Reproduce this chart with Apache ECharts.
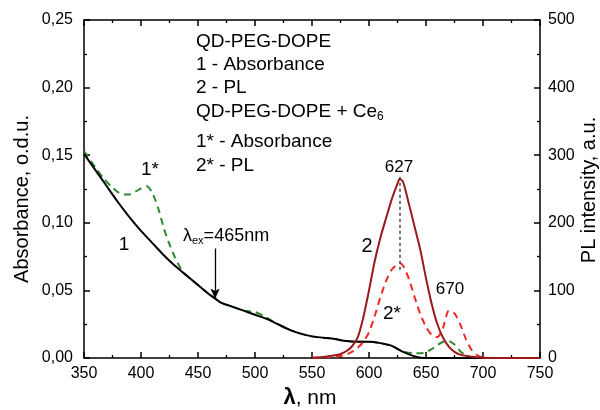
<!DOCTYPE html>
<html>
<head>
<meta charset="utf-8">
<script src="https://cdn.jsdelivr.net/npm/echarts@6/dist/echarts.min.js"></script>
<style>
  html, body { margin: 0; padding: 0; background: #fff; }
  #chart { width: 600px; height: 410px; }
</style>
</head>
<body>
<div id="chart"></div>
<script>
// Absorbance of QD-PEG-DOPE (curve 1), o.d.u.
const absWavelengths = [350, 360, 370, 380, 390, 400, 410, 420, 430, 440, 450, 460, 465, 470, 480, 490, 500, 510, 520, 530, 540, 550, 560, 570, 580, 590, 600, 610, 620, 630, 640, 650, 660, 700, 750];
const absQD = [0.151, 0.139, 0.127, 0.115, 0.104, 0.094, 0.085, 0.076, 0.068, 0.061, 0.054, 0.047, 0.044, 0.041, 0.038, 0.035, 0.032, 0.029, 0.025, 0.021, 0.018, 0.016, 0.015, 0.014, 0.0125, 0.012, 0.012, 0.011, 0.009, 0.0045, 0.0012, 0, 0, 0, 0];

// Absorbance of QD-PEG-DOPE + Ce6 (curve 1*), o.d.u.
const absCe6Wavelengths = [350, 360, 367, 375, 380, 385, 390, 395, 400, 405, 410, 415, 420, 425, 430, 435, 440, 450, 460, 465, 470, 480, 490, 500, 510, 520, 530, 540, 550, 560, 570, 580, 590, 600, 610, 620, 630, 640, 645, 650, 655, 660, 665, 670, 675, 680, 685, 690, 700, 750];
const absCe6 = [0.153, 0.141, 0.133, 0.126, 0.1225, 0.121, 0.121, 0.123, 0.1255, 0.127, 0.122, 0.111, 0.096, 0.084, 0.074, 0.066, 0.061, 0.054, 0.047, 0.044, 0.041, 0.038, 0.035, 0.034, 0.030, 0.025, 0.021, 0.018, 0.016, 0.015, 0.014, 0.0125, 0.012, 0.012, 0.011, 0.009, 0.0048, 0.0035, 0.0035, 0.0045, 0.0065, 0.0095, 0.012, 0.0125, 0.010, 0.005, 0.002, 0.0005, 0, 0];

// PL of QD-PEG-DOPE (curve 2), a.u.
const plWavelengths = [550, 560, 570, 575, 580, 585, 590, 595, 600, 605, 610, 615, 620, 625, 627, 630, 635, 640, 645, 650, 655, 660, 665, 670, 675, 680, 690, 700, 710, 750];
const plQD = [0.3, 1.5, 4, 6, 10, 17, 30, 60, 100, 143, 178, 207, 235, 258, 265, 260, 228, 194, 160, 118, 80, 50, 30, 17, 9, 5, 2, 0.5, 0, 0];

// PL of QD-PEG-DOPE + Ce6 (curve 2*), a.u.
const plCe6Wavelengths = [550, 560, 570, 575, 580, 585, 590, 595, 600, 605, 610, 615, 620, 625, 627, 630, 635, 640, 645, 650, 655, 660, 665, 670, 675, 680, 685, 690, 695, 700, 710, 720, 730, 750];
const plCe6 = [0, 1, 2, 3, 5, 9, 15, 24, 38, 62, 90, 114, 131, 139, 140, 136, 117, 90, 65, 46, 34, 31, 45, 70, 66, 50, 28, 12, 4, 1, 0, 0, 0, 0];

// Excitation wavelength arrow (nm, from / to absorbance)
const excitation = [465, 0.081, 0.044];
// Vertical guide at the PL maximum (nm, from / to PL)
const peakGuide = [627, 268, 127];

// Axis ranges and ticks
const xTicks = [350, 750, 50];
const absTicks = [0, 0.25, 0.05];
const plTicks = [0, 500, 100];

const FONT = "'Liberation Sans', Arial, Helvetica, sans-serif";

const pairs = (xs, ys) => xs.map((x, i) => [x, ys[i]]);

const chart = echarts.init(document.getElementById('chart'), null, { renderer: 'canvas' });

const axisCommon = {
  type: 'value',
  axisLine: { show: true, onZero: false, lineStyle: { color: '#000', width: 1.5 } },
  axisTick: { show: true, inside: true, length: 6, lineStyle: { color: '#000', width: 1.5 } },
  minorTick: { show: true, splitNumber: 2, length: 3, lineStyle: { color: '#000', width: 1.3 } },
  splitLine: { show: false },
  minorSplitLine: { show: false },
  axisLabel: { color: '#000', fontSize: 16, fontFamily: FONT }
};

function textEl(text, x, y, size, opts) {
  return Object.assign({
    type: 'text',
    x: x,
    y: y,
    silent: true,
    style: Object.assign({
      text: text,
      fill: '#000',
      font: size + 'px ' + FONT,
      align: 'center',
      verticalAlign: 'middle'
    }, (opts && opts.style) || {})
  }, (opts && opts.el) || {});
}

const subRich = { s: { fontSize: 12, fontFamily: FONT, fill: '#000', padding: [9, 0, 0, 0] } };

const option = {
  animation: false,
  backgroundColor: '#fff',
  grid: { left: 84, right: 60, top: 20, bottom: 52, containLabel: false },
  xAxis: [
    Object.assign({}, axisCommon, {
      min: xTicks[0], max: xTicks[1], interval: xTicks[2], position: 'bottom',
      axisLabel: Object.assign({}, axisCommon.axisLabel, { margin: 8 })
    }),
    Object.assign({}, axisCommon, {
      min: xTicks[0], max: xTicks[1], interval: xTicks[2], position: 'top',
      axisLabel: { show: false }
    })
  ],
  yAxis: [
    Object.assign({}, axisCommon, {
      min: absTicks[0], max: absTicks[1], interval: absTicks[2], position: 'left',
      axisLabel: Object.assign({}, axisCommon.axisLabel, {
        margin: 11,
        formatter: v => v.toFixed(2).replace('.', ',')
      })
    }),
    Object.assign({}, axisCommon, {
      min: plTicks[0], max: plTicks[1], interval: plTicks[2], position: 'right',
      axisLabel: Object.assign({}, axisCommon.axisLabel, { margin: 8 })
    })
  ],
  series: [
    {
      name: '1*', type: 'line', xAxisIndex: 0, yAxisIndex: 0,
      data: pairs(absCe6Wavelengths, absCe6),
      showSymbol: false, smooth: 0.25,
      lineStyle: { color: '#2f8a2f', width: 2, type: [7, 5] }
    },
    {
      name: '1', type: 'line', xAxisIndex: 0, yAxisIndex: 0,
      data: pairs(absWavelengths, absQD),
      showSymbol: false, smooth: 0.25,
      lineStyle: { color: '#000', width: 2 },
      markLine: {
        silent: true, symbol: ['none', 'arrow'], symbolSize: [7, 10],
        label: { show: false },
        lineStyle: { color: '#000', width: 1.3, type: 'solid' },
        data: [[{ coord: [excitation[0], excitation[1]] }, { coord: [excitation[0], excitation[2]] }]]
      }
    },
    {
      name: '2*', type: 'line', xAxisIndex: 0, yAxisIndex: 1,
      data: pairs(plCe6Wavelengths, plCe6),
      showSymbol: false, smooth: 0.25,
      lineStyle: { color: '#f02828', width: 2, type: [7, 5] }
    },
    {
      name: '2', type: 'line', xAxisIndex: 0, yAxisIndex: 1,
      data: pairs(plWavelengths, plQD),
      showSymbol: false, smooth: 0.25,
      lineStyle: { color: '#9a1a1a', width: 2 },
      markLine: {
        silent: true, symbol: ['none', 'none'],
        label: { show: false },
        lineStyle: { color: '#444', width: 1.5, type: [3, 3] },
        data: [[{ coord: [peakGuide[0], peakGuide[1]] }, { coord: [peakGuide[0], peakGuide[2]] }]]
      }
    }
  ],
  graphic: [
    // axis titles
    textEl('Absorbance, o.d.u.', 22, 199, 20, { el: { rotation: Math.PI / 2 } }),
    textEl('PL intensity, a.u.', 589, 190, 20, { el: { rotation: Math.PI / 2 } }),
    textEl('{b|λ}, nm', 310, 398, 21, { style: { rich: { b: { fontSize: 22, fontWeight: 'bold', fontFamily: FONT, fill: '#000' } } } }),
    // sample description
    textEl('QD-PEG-DOPE', 196, 42, 19, { style: { align: 'left' } }),
    textEl('1 - Absorbance', 196, 65, 19, { style: { align: 'left' } }),
    textEl('2 - PL', 196, 88, 19, { style: { align: 'left' } }),
    textEl('QD-PEG-DOPE + Ce{s|6}', 196, 112, 19, { style: { align: 'left', rich: subRich } }),
    textEl('1* - Absorbance', 196, 142, 19, { style: { align: 'left' } }),
    textEl('2* - PL', 196, 166, 19, { style: { align: 'left' } }),
    // curve annotations
    textEl('1*', 150, 170, 19),
    textEl('1', 124, 245, 19),
    textEl('2', 367, 246, 20),
    textEl('2*', 392, 314, 19),
    textEl('627', 399, 167, 17),
    textEl('670', 450, 289, 17),
    textEl('λ{s|ex}=465nm', 183, 236, 18, { style: { align: 'left', rich: { s: { fontSize: 11, fontFamily: FONT, fill: '#000', padding: [9, 0, 0, 0] } } } })
  ]
};

chart.setOption(option);
</script>
</body>
</html>
